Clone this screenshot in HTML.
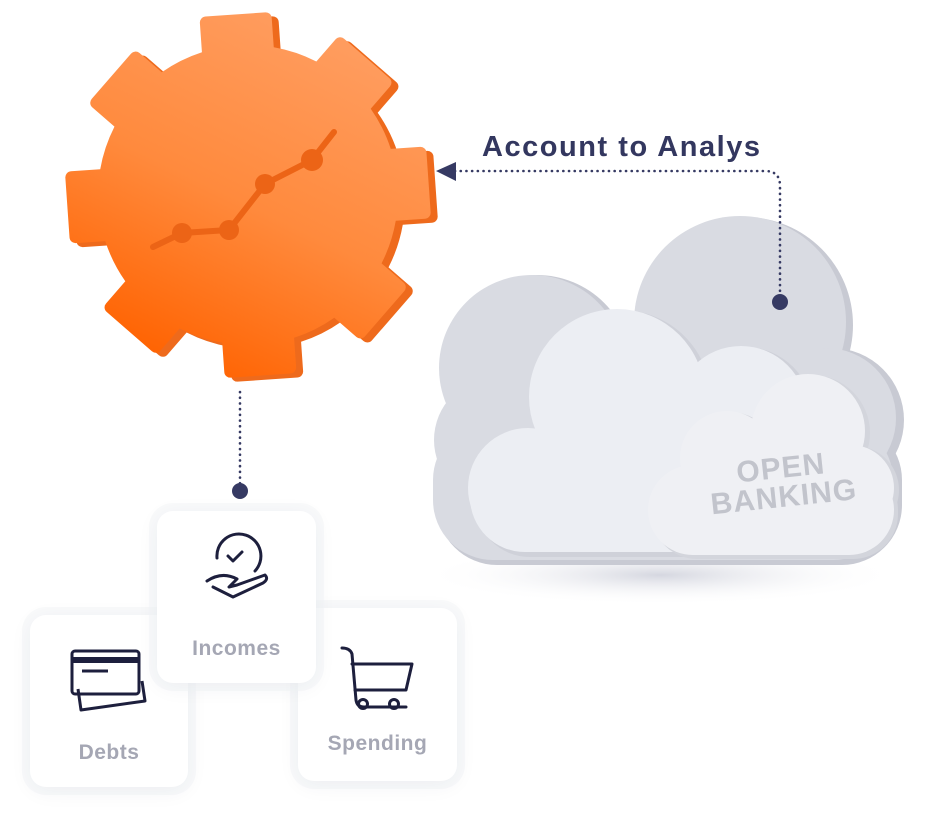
<!DOCTYPE html>
<html><head><meta charset="utf-8"><style>
html,body{margin:0;padding:0;background:#fff;}
body{width:926px;height:822px;position:relative;overflow:hidden;font-family:"Liberation Sans",sans-serif;}
.card{position:absolute;background:#fff;border-radius:16px;box-shadow:0 4px 22px rgba(40,45,80,0.06),0 0 0 8px rgba(244,245,248,0.5);}
.lbl{position:absolute;left:0;right:0;text-align:center;color:#a5a7b4;font-weight:bold;font-size:21px;letter-spacing:0.5px;}
</style></head><body>
<svg width="926" height="822" style="position:absolute;left:0;top:0">
<defs>
<clipPath id="gclip">
<circle cx="248" cy="195" r="150"/>
<rect x="212" y="14" width="72" height="120" rx="6" transform="rotate(-4 248 195)"/>
<rect x="212" y="14" width="72" height="120" rx="6" transform="rotate(41 248 195)"/>
<rect x="212" y="14" width="72" height="120" rx="6" transform="rotate(86 248 195)"/>
<rect x="212" y="14" width="72" height="120" rx="6" transform="rotate(131 248 195)"/>
<rect x="212" y="14" width="72" height="120" rx="6" transform="rotate(176 248 195)"/>
<rect x="212" y="14" width="72" height="120" rx="6" transform="rotate(221 248 195)"/>
<rect x="212" y="14" width="72" height="120" rx="6" transform="rotate(266 248 195)"/>
<rect x="212" y="14" width="72" height="120" rx="6" transform="rotate(311 248 195)"/>
</clipPath>
<clipPath id="gclip2">
<circle cx="255" cy="199" r="150"/>
<rect x="219" y="18" width="72" height="120" rx="6" transform="rotate(-4 255 199)"/>
<rect x="219" y="18" width="72" height="120" rx="6" transform="rotate(41 255 199)"/>
<rect x="219" y="18" width="72" height="120" rx="6" transform="rotate(86 255 199)"/>
<rect x="219" y="18" width="72" height="120" rx="6" transform="rotate(131 255 199)"/>
<rect x="219" y="18" width="72" height="120" rx="6" transform="rotate(176 255 199)"/>
<rect x="219" y="18" width="72" height="120" rx="6" transform="rotate(221 255 199)"/>
<rect x="219" y="18" width="72" height="120" rx="6" transform="rotate(266 255 199)"/>
<rect x="219" y="18" width="72" height="120" rx="6" transform="rotate(311 255 199)"/>
</clipPath>
<linearGradient id="gearg" gradientUnits="userSpaceOnUse" x1="330" y1="40" x2="170" y2="370">
<stop offset="0" stop-color="#ff9c5e"/><stop offset="0.5" stop-color="#ff8a3d"/><stop offset="1" stop-color="#ff6200"/>
</linearGradient>
<radialGradient id="cs" cx="0.5" cy="0.5" r="0.5"><stop offset="0" stop-color="#b9bccb" stop-opacity="0.6"/><stop offset="1" stop-color="#fff" stop-opacity="0"/></radialGradient>
</defs>
<rect x="40" y="0" width="420" height="400" fill="#ee6a1c" clip-path="url(#gclip2)"/>
<rect x="40" y="0" width="420" height="400" fill="url(#gearg)" clip-path="url(#gclip)"/>
<g stroke="#ec6416" stroke-width="6" fill="none" stroke-linecap="round"><polyline points="153,247 182,233 229,230 265,184 312,160 334,132"/></g>
<g fill="#ec6416"><circle cx="182" cy="233" r="10"/><circle cx="229" cy="230" r="10"/><circle cx="265" cy="184" r="10"/><circle cx="312" cy="160" r="11"/></g>

<ellipse cx="660" cy="575" rx="240" ry="30" fill="url(#cs)"/>
<g fill="#c8cad3">
<circle cx="745" cy="325" r="108"/><circle cx="537" cy="370" r="95"/><circle cx="502" cy="440" r="65"/><circle cx="832" cy="420" r="72"/>
<rect x="437" y="420" width="465" height="145" rx="60"/>
</g>
<g fill="#d9dbe2">
<circle cx="740" cy="322" r="106"/><circle cx="532" cy="368" r="93"/><circle cx="497" cy="440" r="63"/><circle cx="826" cy="418" r="70"/>
<rect x="433" y="420" width="460" height="140" rx="60"/>
</g>
<g fill="#cfd1d9">
<circle cx="621" cy="400" r="90"/><circle cx="745" cy="415" r="68"/><circle cx="532" cy="490" r="62"/>
<rect x="475" y="440" width="330" height="117" rx="55"/>
</g>
<g fill="#eceef3">
<circle cx="617" cy="397" r="88"/><circle cx="741" cy="412" r="66"/><circle cx="528" cy="488" r="60"/>
<rect x="470" y="440" width="330" height="112" rx="55"/>
</g>
<g fill="#d3d5dc">
<circle cx="812" cy="433" r="58"/><circle cx="730" cy="460" r="48"/><circle cx="855" cy="490" r="44"/>
<rect x="652" y="465" width="246" height="94" rx="45"/>
</g>
<g fill="#eff0f4">
<circle cx="808" cy="431" r="57"/><circle cx="727" cy="458" r="47"/><circle cx="851" cy="488" r="43"/>
<rect x="648" y="465" width="246" height="90" rx="45"/>
</g>
<g transform="rotate(-6 780 480)" fill="#c2c4cc" font-family="Liberation Sans,sans-serif" font-weight="bold" text-anchor="middle">
<text x="782" y="478" font-size="30" letter-spacing="1">OPEN</text>
<text x="782" y="507" font-size="30" letter-spacing="1">BANKING</text>
</g>

<g stroke="#363a63" stroke-width="2.6" stroke-dasharray="0.1 5.6" stroke-linecap="round" fill="none">
<path d="M455 171 H765 Q780 171 780 186 V300"/>
<path d="M240 392 V488"/>
</g>
<polygon points="436,171 456,162 456,181" fill="#363a63"/>
<circle cx="780" cy="302" r="8" fill="#363a63"/>
<circle cx="240" cy="491" r="8" fill="#363a63"/>
<text x="482" y="156" font-family="Liberation Sans,sans-serif" font-weight="bold" font-size="29" fill="#33375f" textLength="278" lengthAdjust="spacing">Account to Analys</text>
</svg>

<div class="card" style="left:30px;top:615px;width:158px;height:172px;">
<svg width="158" height="110" style="position:absolute;left:0;top:0" fill="none" stroke="#1d1f3d" stroke-width="3" stroke-linejoin="round">
<path d="M48 74 L51 95 L115 86 L112 66"/>
<rect x="42" y="36" width="67" height="43" rx="3"/>
<line x1="42" y1="45" x2="109" y2="45" stroke-width="6"/>
<line x1="52" y1="56" x2="78" y2="56"/>
</svg>
<div class="lbl" style="top:126px;">Debts</div>
</div>
<div class="card" style="left:298px;top:608px;width:159px;height:173px;">
<svg width="159" height="110" style="position:absolute;left:0;top:0" fill="none" stroke="#1d1f3d" stroke-width="3" stroke-linejoin="round" stroke-linecap="round">
<path d="M44 40 Q52 40 54 46 L58 92 Q59 99 66 99 H108"/>
<path d="M54 56 H114 L108 82 H57"/>
<circle cx="65" cy="96" r="4.5"/><circle cx="96" cy="96" r="4.5"/>
</svg>
<div class="lbl" style="top:124px;">Spending</div>
</div>
<div class="card" style="left:157px;top:511px;width:159px;height:172px;">
<svg width="159" height="110" style="position:absolute;left:0;top:0" fill="none" stroke="#1d1f3d" stroke-width="3" stroke-linejoin="round" stroke-linecap="round">
<path d="M60 47 A22 22 0 1 1 98 60"/>
<path d="M71 45 L76 50 L85 41"/>
<path d="M50 70 Q65 60 80 68 L72 76 L80 74 L108 64 Q112 68 106 72 L76 86 L56 76"/>
</svg>
<div class="lbl" style="top:126px;">Incomes</div>
</div>
</body></html>
